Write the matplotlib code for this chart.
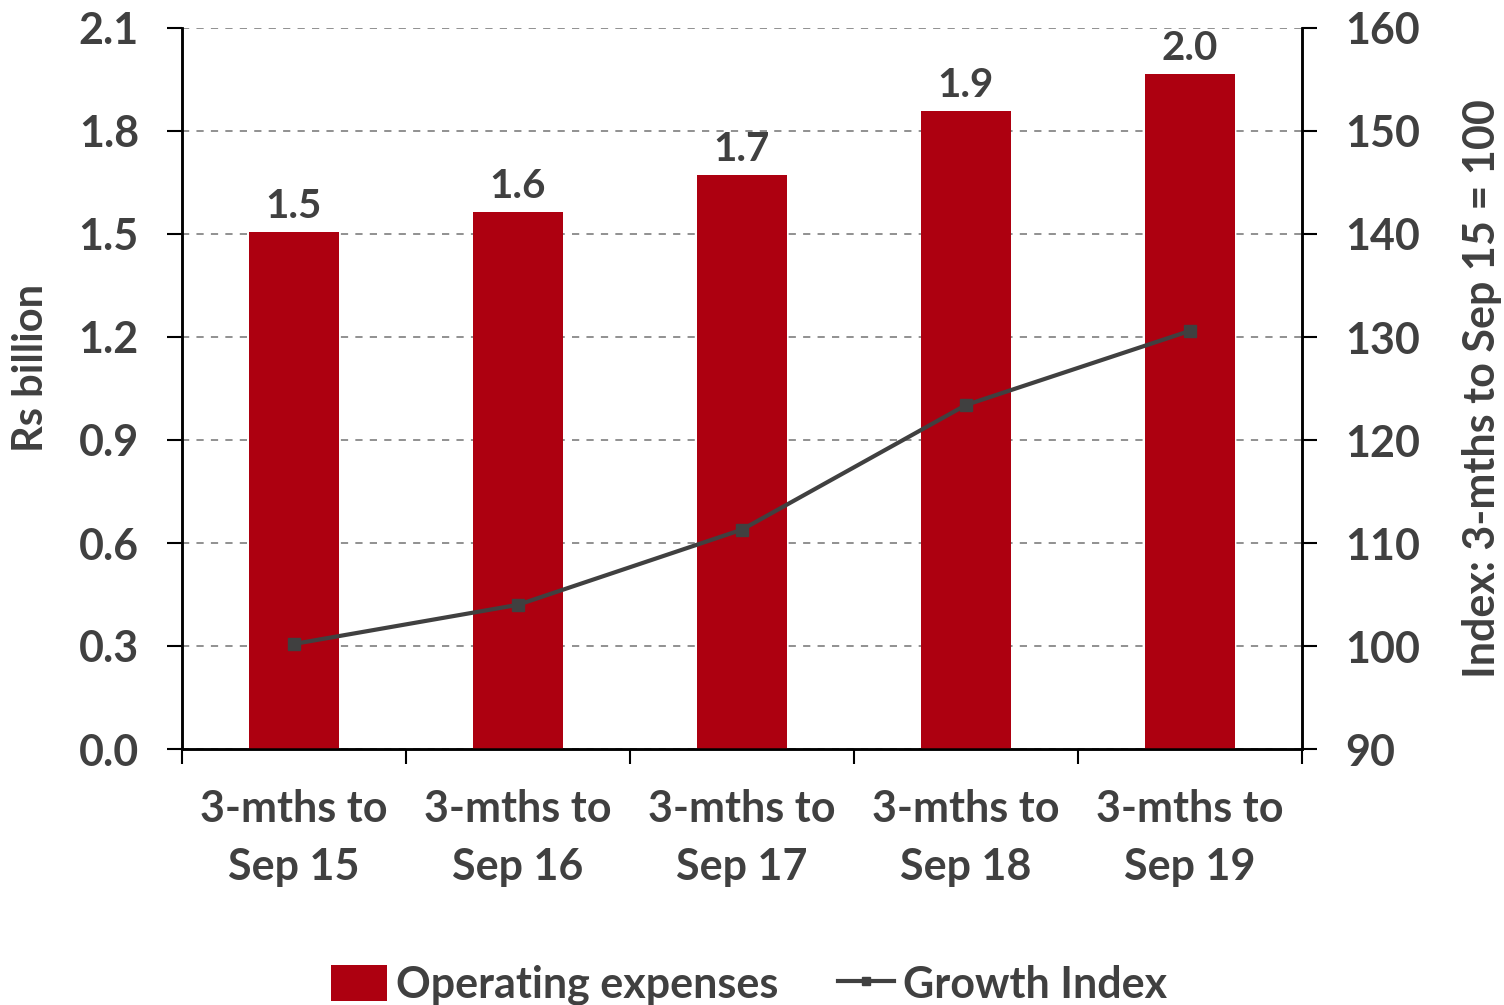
import matplotlib
matplotlib.use("Agg")
import matplotlib.pyplot as plt
from matplotlib.lines import Line2D
from matplotlib.patches import Patch
import numpy as np

categories = ["3-mths to\nSep 15", "3-mths to\nSep 16", "3-mths to\nSep 17", "3-mths to\nSep 18", "3-mths to\nSep 19"]
opex = [1.506, 1.564, 1.672, 1.858, 1.966]
opex_labels = ["1.5", "1.6", "1.7", "1.9", "2.0"]
growth_index = [100.2, 104.0, 111.3, 123.4, 130.6]
left_ticks = [0.0, 0.3, 0.6, 0.9, 1.2, 1.5, 1.8, 2.1]
right_ticks = [90, 100, 110, 120, 130, 140, 150, 160]

plt.rcParams['font.family'] = ['Lato', 'DejaVu Sans']
plt.rcParams['font.weight'] = 'bold'
TXT = '#404040'
RED = '#AD0010'

fig = plt.figure(figsize=(15.04, 10.05), dpi=100)
ax = fig.add_axes([182/1504, 1 - 749/1005, 1120/1504, 721/1005])
ax2 = ax.twinx()

x = np.arange(len(categories))
ax.bar(x, opex, width=0.4, color=RED, zorder=3)
for xi, v, lab in zip(x, opex, opex_labels):
    ax.annotate(lab, (xi, v), xytext=(0, 5), textcoords='offset points', ha='center', va='bottom',
                fontsize=29, fontweight='bold', color=TXT)

ax.set_xlim(-0.5, len(categories) - 0.5)
ax.set_ylim(0, 2.1)
ax.set_yticks(left_ticks)
ax.set_yticklabels([f"{t:.1f}" for t in left_ticks])
ax.yaxis.grid(True, linestyle=(0, (4, 4)), color='#888888', linewidth=1.3, zorder=0)
ax.set_axisbelow(True)

ax.set_xticks(x)
ax.set_xticklabels(categories, fontsize=31, fontweight='bold', color=TXT, linespacing=1.55)
ax.set_xticks(np.arange(-0.5, len(categories) + 0.5, 1), minor=True)
ax.tick_params(axis='x', which='major', length=0, pad=29)
ax.tick_params(axis='x', which='minor', length=11, width=1.5, color='black')
ax.tick_params(axis='y', length=11, width=1.5, labelsize=31, labelcolor=TXT, pad=20)
ax.set_ylabel("Rs billion", fontsize=30, fontweight='bold', color=TXT)
ax.yaxis.set_label_coords((50 - 182) / 1120, (749 - 368) / 721)

ax2.plot(x, growth_index, color=TXT, linewidth=3, marker='s', markersize=8, zorder=4)
ax2.set_ylim(90, 160)
ax2.set_yticks(right_ticks)
ax2.tick_params(axis='y', length=11, width=1.5, labelsize=31, labelcolor=TXT, pad=20)
ax2.set_ylabel("Index: 3-mths to Sep 15 = 100", fontsize=31, fontweight='bold', color=TXT, labelpad=30)

for a in (ax, ax2):
    a.spines['top'].set_visible(False)
    for s in ('left', 'right', 'bottom'):
        a.spines[s].set_linewidth(1.8)
        a.spines[s].set_color('black')

handles = [Patch(facecolor=RED, label='Operating expenses'),
           Line2D([0], [0], color=TXT, linewidth=3, marker='s', markersize=6, label='Growth Index')]
fig.legend(handles=handles, loc='center', bbox_to_anchor=(749/1504, 1 - 985/1005), ncol=2,
           frameon=False, fontsize=31, handlelength=1.3, handleheight=0.9, handletextpad=0.2,
           columnspacing=1.4, labelcolor=TXT)

fig.savefig("out.png", dpi=100, facecolor='white')
